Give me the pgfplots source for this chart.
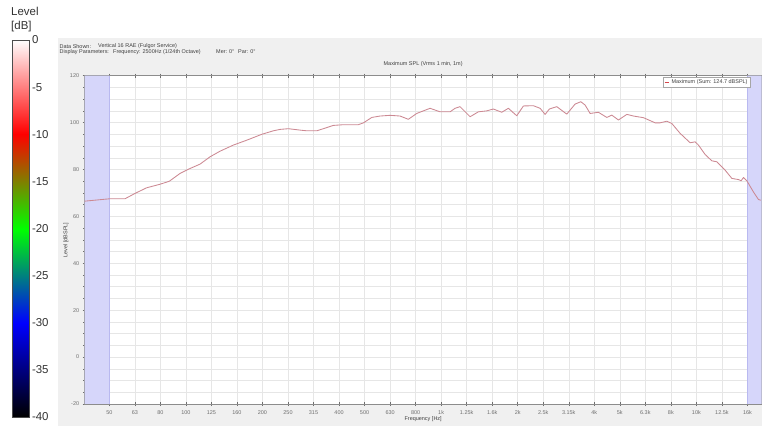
\documentclass[border=0pt]{standalone}
\usepackage{fontspec}
\setmainfont{Liberation Sans}
\usepackage{pgfplots}
\pgfplotsset{compat=1.18}
\definecolor{panel}{RGB}{240,240,240}
\definecolor{curve}{RGB}{204,136,146}
\definecolor{legred}{RGB}{215,70,75}
\definecolor{band}{RGB}{214,214,250}
\definecolor{bandedge}{RGB}{185,185,240}
\definecolor{gridc}{RGB}{230,230,230}
\definecolor{tickc}{RGB}{110,110,110}
\begin{document}
\begin{tikzpicture}
\path[use as bounding box] (0bp,0bp) rectangle (762bp,426bp);
\fill[white] (0bp,0bp) rectangle (762bp,426bp);
\fill[panel] (58bp,0bp) rectangle (762bp,388bp);
% colour bar title
\node[anchor=west, inner sep=0, font=\fontsize{11.5}{12}\selectfont, text=black!80] at (11bp,415bp) {Level};
\node[anchor=west, inner sep=0, font=\fontsize{11.5}{12}\selectfont, text=black!80] at (11bp,399.5bp) {[dB]};
% header texts
\begin{scope}[every node/.style={anchor=west, inner sep=0, font=\fontsize{5.5}{6}\selectfont, text=black!75}]
\node at (59.5bp,379.7bp) {Data Shown:};
\node at (98bp,379.7bp) {Vertical 16 RAE (Fulgor Service)};
\node at (59.5bp,374bp) {Display Parameters:};
\node at (113bp,374bp) {Frequency: 2500Hz (1/24th Octave)};
\node at (216bp,374bp) {Mer: 0°};
\node at (238bp,374bp) {Par: 0°};
\end{scope}
% colour bar
\begin{axis}[at={(12bp,9bp)}, anchor=south west, scale only axis,
  width=17.5bp, height=377bp,
  xmin=0, xmax=1, ymin=-40, ymax=0, view={0}{90},
  xtick=\empty, ytick={0,-5,...,-40}, yticklabel pos=right,
  tick style={draw=none},
  colormap={lev}{rgb255(0)=(0,0,0) rgb255(1)=(0,0,255) rgb255(2)=(0,255,0) rgb255(3)=(255,0,0) rgb255(4)=(255,255,255)},
  axis line style={draw=black!70, line width=0.6pt},
  /pgf/number format/assume math mode=true,
  yticklabel style={font=\fontsize{11.5}{12}\selectfont, text=black!80, xshift=-1bp},
  axis on top]
\addplot3[surf, shader=interp, mesh/cols=2, point meta=y] coordinates {
(0,-40,0) (1,-40,0)
(0,-30,0) (1,-30,0)
(0,-20,0) (1,-20,0)
(0,-10,0) (1,-10,0)
(0,0,0) (1,0,0)
};
\end{axis}
% main chart
\begin{axis}[at={(84.65bp,22bp)}, anchor=south west, scale only axis,
  width=677bp, height=328.3bp,
  xmode=log, xmin=40, xmax=18340, ymin=-20, ymax=120,
  axis background/.style={fill=white},
  xtick={50,63.0,79.37,100,125.99,158.74,200,251.98,317.48,400,503.97,634.96,800,1007.9,1269.9,1600,2015.9,2539.8,3200,4031.7,5079.7,6400,8063.5,10159,12800,16127},
  xticklabels={50,63,80,100,125,160,200,250,315,400,500,630,800,1k,1.25k,1.6k,2k,2.5k,3.15k,4k,5k,6.3k,8k,10k,12.5k,16k},
  minor xtick={},
  ytick={-20,0,...,120}, minor ytick={-15,-10,...,115},
  xmajorgrids, ymajorgrids, yminorgrids,
  major grid style={draw=gridc, line width=0.5pt},
  minor grid style={draw=gridc, line width=0.5pt},
  tick align=center, major tick length=4bp, minor tick length=3bp,
  tick style={draw=tickc, line width=0.5pt},
  axis line style={draw=black!45, line width=0.6pt},
  /pgf/number format/assume math mode=true,
  ticklabel style={font=\fontsize{5.5}{6}\selectfont, text=tickc},
  xticklabel style={yshift=-1bp},
  xlabel={Frequency [Hz]}, ylabel={Level [dBSPL]},
  label style={font=\fontsize{5.5}{6}\selectfont, text=black!75},
  xlabel style={at={(axis description cs:0.5,-0.045)}, anchor=center},
  ylabel style={at={(axis description cs:-0.0275,0.5)}, anchor=center},
  title={Maximum SPL (Vrms 1 min, 1m)},
  title style={at={(axis description cs:0.5,1.017)}, anchor=center, font=\fontsize{5.5}{6}\selectfont, text=black!75, inner sep=0},
  legend style={at={(axis description cs:0.983,0.996)}, anchor=north east,
    font=\fontsize{5.5}{6}\selectfont, text=black!75, draw=black!35, fill=white,
    inner sep=0.6pt, outer sep=0pt},
  legend image code/.code={\draw[#1, draw=legred, line width=1pt] (0cm,0cm) -- (0.16cm,0cm);},
  legend cell align=left,
  ]
\addplot[fill=band, draw=none, forget plot] coordinates {(40,-20) (50,-20) (50,120) (40,120) (40,-20)};
\addplot[fill=band, draw=none, forget plot] coordinates {(16127,-20) (18340,-20) (18340,120) (16127,120) (16127,-20)};
\addplot[draw=bandedge, line width=0.6pt, forget plot] coordinates {(50,-20) (50,120)};
\addplot[draw=bandedge, line width=0.6pt, forget plot] coordinates {(16127,-20) (16127,120)};
\addplot[color=curve, line width=0.85pt, line join=round] coordinates {
(40,66.5) (50,67.5) (57.6,67.5) (63.1,69.8) (70.1,72.2) (79.1,73.7) (86.1,75.0)
(94.8,78.3) (102.2,80.1) (113.7,82.3) (124.4,85.4) (136.2,87.8) (153.6,90.4)
(173.5,92.5) (198.7,95.0) (220.7,96.5) (234.6,97.1) (252.8,97.4) (281,96.8)
(298.6,96.5) (327,96.5) (347,97.4) (380,98.8) (416,99.1) (476,99.1) (499,99.9)
(538,102.2) (580,102.8) (635,103.1) (695,102.8) (749,101.4) (808,103.9)
(858,105.0) (912,106.1) (998,104.6) (1093,104.6) (1143,106.1) (1196,106.8)
(1310,102.5) (1412,104.6) (1523,105.0) (1617,105.8) (1745,104.4) (1853,106.1)
(1999,102.9) (2122,107.1) (2323,107.2) (2469,106.1) (2583,103.5) (2685,105.8)
(2871,106.8) (3143,103.6) (3389,107.9) (3568,108.9) (3710,107.5) (3882,103.9)
(4185,104.4) (4516,102.2) (4724,103.2) (5016,101.1) (5411,103.5) (5745,102.8)
(6290,102.1) (6994,99.9) (7316,99.9) (7774,100.6) (8136,99.6) (8769,95.4)
(9599,91.4) (10045,91.8) (10352,90.4) (10994,86.4) (11680,83.7) (12226,83.3)
(13180,79.7) (14005,76.2) (14869,75.7) (15234,75.2) (15555,76.6) (16040,75.2)
(17030,70.4) (17815,67.2) (18200,66.9)
};
\addlegendentry{Maximum (Sum: 124.7 dBSPL)}
\end{axis}
\end{tikzpicture}
\end{document}
